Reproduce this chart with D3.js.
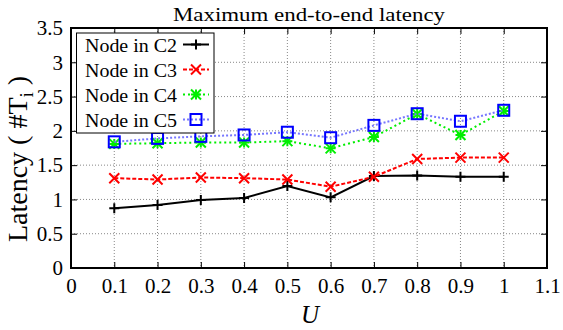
<!DOCTYPE html>
<html>
<head>
<meta charset="utf-8">
<script src="https://cdn.jsdelivr.net/npm/d3@7"></script>
<style>
  body { margin: 0; background: #fff; }
  svg text { font-family: "Liberation Serif", "DejaVu Serif", serif !important; fill: #000; }
</style>
</head>
<body>
<div id="chart"></div>
<script>
// data
const uValues = [0.1, 0.2, 0.3, 0.4, 0.5, 0.6, 0.7, 0.8, 0.9, 1.0]
const nodeC2 = [0.87, 0.92, 0.99, 1.02, 1.195, 1.03, 1.34, 1.35, 1.33, 1.33]
const nodeC3 = [1.31, 1.29, 1.32, 1.31, 1.29, 1.185, 1.33, 1.59, 1.61, 1.61]
const nodeC4 = [1.81, 1.82, 1.83, 1.83, 1.85, 1.745, 1.91, 2.245, 1.94, 2.29]
const nodeC5 = [1.84, 1.89, 1.92, 1.94, 1.98, 1.90, 2.08, 2.25, 2.14, 2.30]
const seriesNames = ["Node in C2", "Node in C3", "Node in C4", "Node in C5"]
const xTicks = [0, 0.1, 0.2, 0.3, 0.4, 0.5, 0.6, 0.7, 0.8, 0.9, 1, 1.1]
const yTicks = [0, 0.5, 1, 1.5, 2, 2.5, 3, 3.5]

const width = 563
const height = 330
let dimensions = {
  width: width,
  height: height,
  margin: { top: 28, right: 16, bottom: 62, left: 71 },
}
dimensions.boundedWidth = dimensions.width - dimensions.margin.left - dimensions.margin.right
dimensions.boundedHeight = dimensions.height - dimensions.margin.top - dimensions.margin.bottom

const svg = d3.select("#chart").append("svg")
    .attr("width", dimensions.width)
    .attr("height", dimensions.height)

const bounds = svg.append("g")
    .attr("transform", `translate(${dimensions.margin.left},${dimensions.margin.top})`)

const xScale = d3.scaleLinear().domain([0, 1.1]).range([0, dimensions.boundedWidth])
const yScale = d3.scaleLinear().domain([0, 3.5]).range([dimensions.boundedHeight, 0])

// grid
bounds.append("g").selectAll("line").data(xTicks.slice(1, -1)).join("line")
    .attr("x1", d => xScale(d)).attr("x2", d => xScale(d))
    .attr("y1", 0).attr("y2", dimensions.boundedHeight)
    .attr("stroke", "#888").attr("stroke-width", 1).attr("stroke-dasharray", "1,2")
bounds.append("g").selectAll("line").data(yTicks.slice(1, -1)).join("line")
    .attr("y1", d => yScale(d)).attr("y2", d => yScale(d))
    .attr("x1", 0).attr("x2", dimensions.boundedWidth)
    .attr("stroke", "#888").attr("stroke-width", 1).attr("stroke-dasharray", "1,2")

// axes with inward ticks, mirrored
const tickLen = 6
const xAxis = bounds.append("g")
    .attr("transform", `translate(0,${dimensions.boundedHeight})`)
    .call(d3.axisBottom(xScale).tickValues(xTicks).tickSize(-tickLen).tickPadding(10)
      .tickFormat(d3.format("~g")))
const xAxisTop = bounds.append("g")
    .call(d3.axisTop(xScale).tickValues(xTicks).tickSize(-tickLen).tickFormat(""))
const yAxis = bounds.append("g")
    .call(d3.axisLeft(yScale).tickValues(yTicks).tickSize(-tickLen).tickPadding(8)
      .tickFormat(d3.format("~g")))
const yAxisRight = bounds.append("g")
    .attr("transform", `translate(${dimensions.boundedWidth},0)`)
    .call(d3.axisRight(yScale).tickValues(yTicks).tickSize(-tickLen).tickFormat(""))

;[xAxis, xAxisTop, yAxis, yAxisRight].forEach(a => {
  a.attr("font-family", null).attr("font-size", null)
  a.select(".domain").remove()
  a.selectAll(".tick line").attr("stroke", "#000").attr("stroke-width", 1)
  a.selectAll(".tick text").style("font-size", "21px")
})

bounds.append("rect")
    .attr("width", dimensions.boundedWidth)
    .attr("height", dimensions.boundedHeight)
    .attr("fill", "none").attr("stroke", "#000").attr("stroke-width", 2)

// series
const series = [
  { name: seriesNames[0], values: nodeC2, color: "#000", dash: null, width: 2, marker: "plus" },
  { name: seriesNames[1], values: nodeC3, color: "#f00", dash: "4,2", width: 2, marker: "cross" },
  { name: seriesNames[2], values: nodeC4, color: "#0e0", dash: "2,3", width: 2, marker: "star" },
  { name: seriesNames[3], values: nodeC5, color: "#7777ff", dash: "2,2", width: 2, marker: "square" },
]

const lineGenerator = d3.line()
    .x((d, i) => xScale(uValues[i]))
    .y(d => yScale(d))

const drawMarker = (g, type, x, y) => {
  const s = 5
  if (type === "plus" || type === "star") {
    g.append("path").attr("d", `M${x - s},${y}H${x + s}M${x},${y - s}V${y + s}`)
  }
  if (type === "cross" || type === "star") {
    g.append("path").attr("d", `M${x - s},${y - s}L${x + s},${y + s}M${x - s},${y + s}L${x + s},${y - s}`)
  }
  if (type === "square") {
    g.append("rect").attr("x", x - 5.5).attr("y", y - 5.5).attr("width", 11).attr("height", 11)
      .attr("fill", "none")
  }
}

series.forEach(s => {
  bounds.append("path")
      .attr("d", lineGenerator(s.values))
      .attr("fill", "none")
      .attr("stroke", s.color)
      .attr("stroke-width", s.width)
      .attr("stroke-dasharray", s.dash)
  const markerColor = s.marker === "square" ? "#00f" : s.color
  const mg = bounds.append("g").attr("stroke", markerColor).attr("stroke-width", 2)
  s.values.forEach((v, i) => drawMarker(mg, s.marker, xScale(uValues[i]), yScale(v)))
})

// legend
const legend = svg.append("g").attr("transform", "translate(76.5,33)")
legend.append("rect")
    .attr("width", 137.5).attr("height", 100)
    .attr("fill", "#fff").attr("stroke", "#000").attr("stroke-width", 1)
series.forEach((s, i) => {
  const cy = 11.5 + i * 25
  legend.append("text")
      .attr("x", 8.5).attr("y", cy + 7)
      .attr("textLength", 92).attr("lengthAdjust", "spacingAndGlyphs")
      .style("font-size", "18px")
      .text(s.name)
  legend.append("line")
      .attr("x1", 106.5).attr("x2", 132.5).attr("y1", cy).attr("y2", cy)
      .attr("stroke", s.color).attr("stroke-width", s.width)
      .attr("stroke-dasharray", s.dash)
  const markerColor = s.marker === "square" ? "#00f" : s.color
  const mg = legend.append("g").attr("stroke", markerColor).attr("stroke-width", 2)
  drawMarker(mg, s.marker, 119.5, cy)
})

// title and labels
svg.append("text")
    .attr("x", 309)
    .attr("y", 21)
    .attr("text-anchor", "middle")
    .attr("textLength", 272).attr("lengthAdjust", "spacingAndGlyphs")
    .style("font-size", "19px")
    .text("Maximum end-to-end latency")

svg.append("text")
    .attr("x", 310)
    .attr("y", 323)
    .attr("text-anchor", "middle")
    .style("font-size", "25px")
    .style("font-style", "italic")
    .text("U")

const yLabel = svg.append("text")
    .attr("transform", "translate(27,159) rotate(-90)")
    .attr("text-anchor", "middle")
    .style("font-size", "28px")
yLabel.append("tspan").text("Latency ( #T")
yLabel.append("tspan").attr("dy", 6).style("font-size", "19px").text("i")
yLabel.append("tspan").attr("dy", -6).text(" )")
</script>
</body>
</html>
